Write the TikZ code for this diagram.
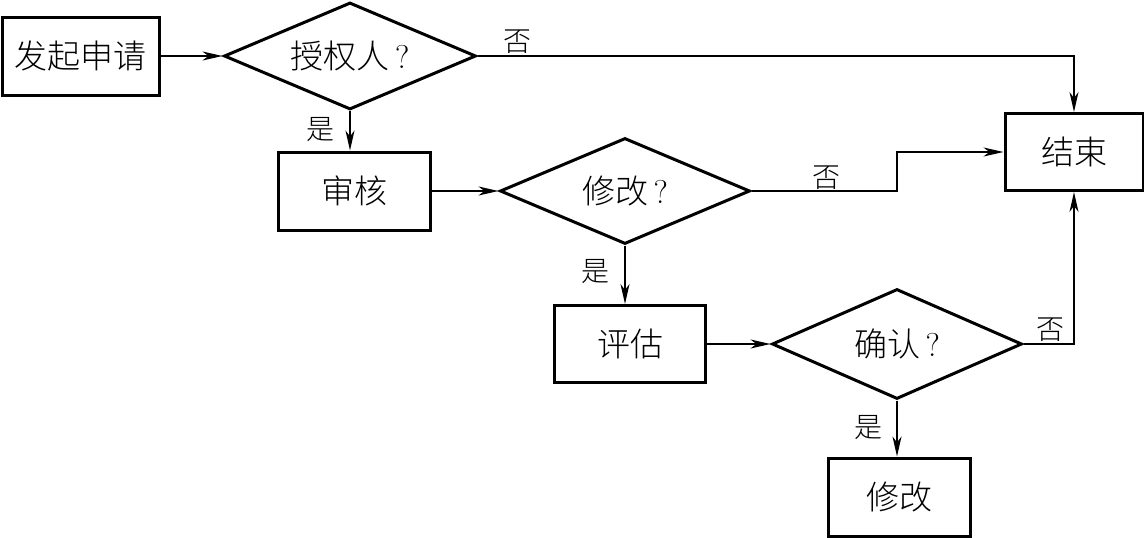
\documentclass[tikz,border=0pt]{standalone}
\usepackage{fontspec}
\newfontfamily\cjk{Noto Sans CJK SC Light}
\usetikzlibrary{shapes.geometric,arrows.meta}
\begin{document}
\begin{tikzpicture}[x=1pt,y=-1pt,
  box/.style={draw,line width=3pt,rectangle,inner sep=0pt,font=\fontsize{33}{35}\selectfont\cjk},
  dec/.style={draw,line width=3pt,diamond,aspect=2.3,inner sep=0pt,font=\fontsize{33}{35}\selectfont},
  conn/.style={line width=1.8pt,-{Stealth[length=20pt,width=9pt,inset=6pt]}},
  lab/.style={font=\fontsize{28}{30}\selectfont\cjk,inner sep=0pt}]
\useasboundingbox (0,0) rectangle (1144,538);
\node[box,minimum width=157pt,minimum height=78pt] (s) at (81,56) {发起申请};
\node[dec,minimum width=252pt,minimum height=107pt] (d1) at (350,56) {{\cjk 授权人}\,?};
\node[box,minimum width=152pt,minimum height=78pt] (r1) at (354,191) {审核};
\node[dec,minimum width=250pt,minimum height=106pt] (d2) at (625,191) {{\cjk 修改}\,?};
\node[box,minimum width=151pt,minimum height=77pt] (r2) at (630,344) {评估};
\node[dec,minimum width=250pt,minimum height=110pt] (d3) at (897,344) {{\cjk 确认}\,?};
\node[box,minimum width=142pt,minimum height=78pt] (r3) at (899,497) {修改};
\node[box,minimum width=138pt,minimum height=77pt] (e) at (1074,152) {结束};
\coordinate (c2) at (897,191);
\draw[conn] (s.east) -- (d1.west);
\draw[conn] (d1.east) -| (e.north);
\draw[conn] (d1.south) -- (d1.south |- r1.north);
\draw[conn] (r1.east) -- (d2.west);
\draw[conn] (d2.east) -- (c2) |- (e.west);
\draw[conn] (d2.south) -- (d2.south |- r2.north);
\draw[conn] (r2.east) -- (d3.west);
\draw[conn] (d3.east) -| (e.south);
\draw[conn] (d3.south) -- (d3.south |- r3.north);
\node[lab] (l1) at (517,42) {否};
\node[lab] (l2) at (320,130) {是};
\node[lab] (l3) at (826,178) {否};
\node[lab] (l4) at (595,272) {是};
\node[lab] (l5) at (1050,330) {否};
\node[lab] (l6) at (868,428) {是};
\end{tikzpicture}
\end{document}
